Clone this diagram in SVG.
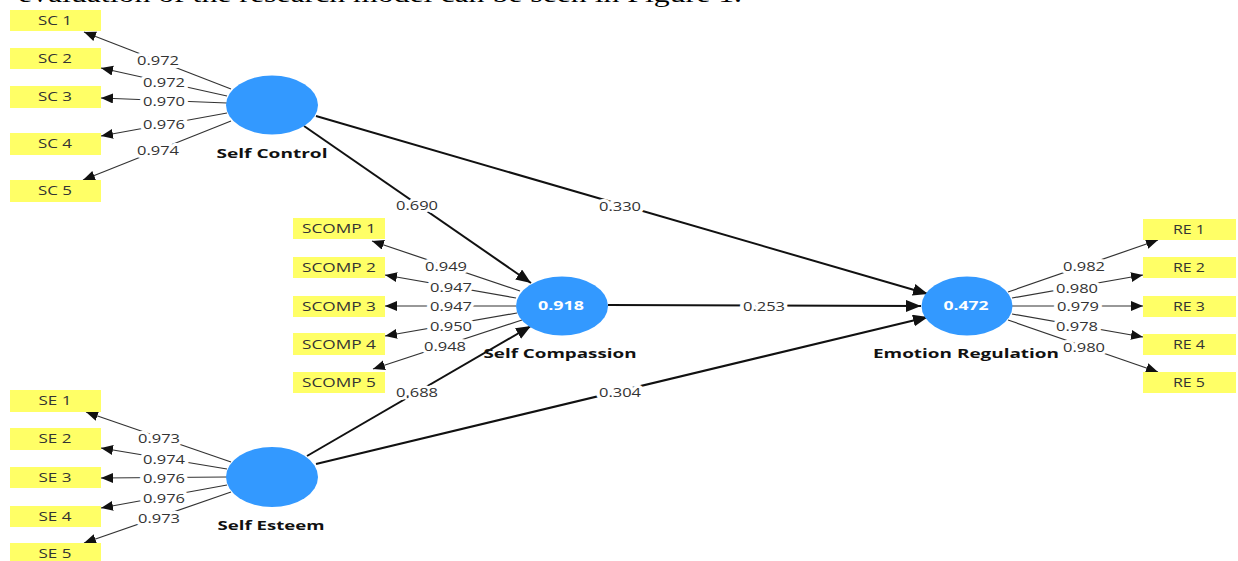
<svg xmlns="http://www.w3.org/2000/svg" width="1238" height="561" viewBox="0 0 1238 561">
<defs>
<style>
.box{fill:#ffff66;}
.lv{fill:#3399ff;}
.bl{font-family:"Open Sans","Noto Sans",sans-serif;font-size:13px;fill:#333;text-anchor:middle;}
.num{font-family:"Open Sans","Noto Sans",sans-serif;font-size:13px;fill:#333;text-anchor:middle;stroke:#fff;stroke-width:6px;paint-order:stroke;stroke-linejoin:round;}
.name{font-family:"Open Sans","Noto Sans",sans-serif;font-size:13px;font-weight:bold;fill:#111;text-anchor:middle;}
.r2{font-family:"Open Sans","Noto Sans",sans-serif;font-size:13px;font-weight:bold;fill:#fff;text-anchor:middle;}
.ld{stroke:#333;stroke-width:1.2;fill:none;marker-end:url(#ah);}
.st{stroke:#111;stroke-width:2;fill:none;marker-end:url(#ahb);}
</style>
<marker id="ah" markerUnits="userSpaceOnUse" markerWidth="13" markerHeight="11" refX="12" refY="5" orient="auto"><path d="M0,0 L12,5 L0,10 z" fill="#111"/></marker>
<marker id="ahb" markerUnits="userSpaceOnUse" markerWidth="16" markerHeight="13" refX="15" refY="6" orient="auto"><path d="M0,0 L15,6 L0,12 z" fill="#111"/></marker>
</defs>
<rect width="1238" height="561" fill="#fff"/>
<text x="18" y="2" font-family="Liberation Serif, serif" font-size="24" fill="#000" textLength="724" lengthAdjust="spacingAndGlyphs">evaluation of the research model can be seen in Figure 1.</text>

<g id="connectors">
<line class="ld" x1="231" y1="89" x2="84" y2="32"/>
<line class="ld" x1="227" y1="96" x2="101" y2="68"/>
<line class="ld" x1="227" y1="103" x2="101" y2="98"/>
<line class="ld" x1="227" y1="113" x2="101" y2="136"/>
<line class="ld" x1="231" y1="121" x2="83" y2="180"/>
<line class="ld" x1="231" y1="462" x2="86" y2="412"/>
<line class="ld" x1="227" y1="469" x2="101" y2="448"/>
<line class="ld" x1="227" y1="477" x2="101" y2="478"/>
<line class="ld" x1="227" y1="485" x2="101" y2="508"/>
<line class="ld" x1="231" y1="492" x2="84" y2="543"/>
<line class="ld" x1="520" y1="291" x2="372" y2="241"/>
<line class="ld" x1="516" y1="298" x2="385" y2="275"/>
<line class="ld" x1="516" y1="306" x2="385" y2="306"/>
<line class="ld" x1="517" y1="313" x2="385" y2="336"/>
<line class="ld" x1="522" y1="320" x2="373" y2="369"/>
<line class="ld" x1="1008" y1="292" x2="1158" y2="240"/>
<line class="ld" x1="1012" y1="298" x2="1143" y2="275"/>
<line class="ld" x1="1012" y1="306" x2="1143" y2="306"/>
<line class="ld" x1="1012" y1="314" x2="1143" y2="337"/>
<line class="ld" x1="1008" y1="320" x2="1158" y2="372"/>
<line class="st" x1="304" y1="126" x2="531" y2="283"/>
<line class="st" x1="316" y1="116" x2="928" y2="294"/>
<line class="st" x1="608" y1="305" x2="921" y2="306"/>
<line class="st" x1="307" y1="456" x2="531" y2="326"/>
<line class="st" x1="316" y1="464" x2="928" y2="317"/>
<text class="num" x="158" y="65" textLength="42" lengthAdjust="spacingAndGlyphs">0.972</text>
<text class="num" x="164" y="87" textLength="42" lengthAdjust="spacingAndGlyphs">0.972</text>
<text class="num" x="164" y="106" textLength="42" lengthAdjust="spacingAndGlyphs">0.970</text>
<text class="num" x="164" y="129" textLength="42" lengthAdjust="spacingAndGlyphs">0.976</text>
<text class="num" x="158" y="155" textLength="42" lengthAdjust="spacingAndGlyphs">0.974</text>
<text class="num" x="159" y="443" textLength="42" lengthAdjust="spacingAndGlyphs">0.973</text>
<text class="num" x="164" y="464" textLength="42" lengthAdjust="spacingAndGlyphs">0.974</text>
<text class="num" x="164" y="483" textLength="42" lengthAdjust="spacingAndGlyphs">0.976</text>
<text class="num" x="164" y="503" textLength="42" lengthAdjust="spacingAndGlyphs">0.976</text>
<text class="num" x="159" y="523" textLength="42" lengthAdjust="spacingAndGlyphs">0.973</text>
<text class="num" x="446" y="271" textLength="42" lengthAdjust="spacingAndGlyphs">0.949</text>
<text class="num" x="451" y="292" textLength="42" lengthAdjust="spacingAndGlyphs">0.947</text>
<text class="num" x="451" y="311" textLength="42" lengthAdjust="spacingAndGlyphs">0.947</text>
<text class="num" x="451" y="331" textLength="42" lengthAdjust="spacingAndGlyphs">0.950</text>
<text class="num" x="445" y="351" textLength="42" lengthAdjust="spacingAndGlyphs">0.948</text>
<text class="num" x="1084" y="271" textLength="42" lengthAdjust="spacingAndGlyphs">0.982</text>
<text class="num" x="1077" y="293" textLength="42" lengthAdjust="spacingAndGlyphs">0.980</text>
<text class="num" x="1078" y="311" textLength="42" lengthAdjust="spacingAndGlyphs">0.979</text>
<text class="num" x="1077" y="331" textLength="42" lengthAdjust="spacingAndGlyphs">0.978</text>
<text class="num" x="1084" y="352" textLength="42" lengthAdjust="spacingAndGlyphs">0.980</text>
<text class="num" x="417" y="210" textLength="42" lengthAdjust="spacingAndGlyphs">0.690</text>
<text class="num" x="620" y="211" textLength="42" lengthAdjust="spacingAndGlyphs">0.330</text>
<text class="num" x="764" y="311" textLength="42" lengthAdjust="spacingAndGlyphs">0.253</text>
<text class="num" x="417" y="397" textLength="42" lengthAdjust="spacingAndGlyphs">0.688</text>
<text class="num" x="620" y="397" textLength="42" lengthAdjust="spacingAndGlyphs">0.304</text>
</g>

<g id="sc1"><rect class="box" x="10" y="10" width="91" height="21"/><text class="bl" x="55" y="25" textLength="34" lengthAdjust="spacingAndGlyphs">SC 1</text></g>
<g id="sc2"><rect class="box" x="10" y="48" width="91" height="21"/><text class="bl" x="55" y="63" textLength="34" lengthAdjust="spacingAndGlyphs">SC 2</text></g>
<g id="sc3"><rect class="box" x="10" y="86" width="91" height="22"/><text class="bl" x="55" y="101" textLength="34" lengthAdjust="spacingAndGlyphs">SC 3</text></g>
<g id="sc4"><rect class="box" x="10" y="133" width="91" height="22"/><text class="bl" x="55" y="148" textLength="34" lengthAdjust="spacingAndGlyphs">SC 4</text></g>
<g id="sc5"><rect class="box" x="10" y="180" width="91" height="22"/><text class="bl" x="55" y="195" textLength="34" lengthAdjust="spacingAndGlyphs">SC 5</text></g>

<g id="se1"><rect class="box" x="10" y="390" width="91" height="22"/><text class="bl" x="55" y="405" textLength="33" lengthAdjust="spacingAndGlyphs">SE 1</text></g>
<g id="se2"><rect class="box" x="10" y="428" width="91" height="22"/><text class="bl" x="55" y="443" textLength="33" lengthAdjust="spacingAndGlyphs">SE 2</text></g>
<g id="se3"><rect class="box" x="10" y="467" width="91" height="21"/><text class="bl" x="55" y="482" textLength="33" lengthAdjust="spacingAndGlyphs">SE 3</text></g>
<g id="se4"><rect class="box" x="10" y="506" width="91" height="21"/><text class="bl" x="55" y="521" textLength="33" lengthAdjust="spacingAndGlyphs">SE 4</text></g>
<g id="se5"><rect class="box" x="10" y="543" width="91" height="22"/><text class="bl" x="55" y="558" textLength="33" lengthAdjust="spacingAndGlyphs">SE 5</text></g>

<g id="scomp1"><rect class="box" x="293" y="218" width="92" height="21"/><text class="bl" x="339" y="233" textLength="74" lengthAdjust="spacingAndGlyphs">SCOMP 1</text></g>
<g id="scomp2"><rect class="box" x="293" y="257" width="92" height="21"/><text class="bl" x="339" y="272" textLength="74" lengthAdjust="spacingAndGlyphs">SCOMP 2</text></g>
<g id="scomp3"><rect class="box" x="293" y="296" width="92" height="21"/><text class="bl" x="339" y="311" textLength="74" lengthAdjust="spacingAndGlyphs">SCOMP 3</text></g>
<g id="scomp4"><rect class="box" x="293" y="333" width="92" height="22"/><text class="bl" x="339" y="349" textLength="74" lengthAdjust="spacingAndGlyphs">SCOMP 4</text></g>
<g id="scomp5"><rect class="box" x="293" y="372" width="92" height="21"/><text class="bl" x="339" y="387" textLength="74" lengthAdjust="spacingAndGlyphs">SCOMP 5</text></g>

<g id="re1"><rect class="box" x="1143" y="219" width="93" height="21"/><text class="bl" x="1189" y="234" textLength="32" lengthAdjust="spacingAndGlyphs">RE 1</text></g>
<g id="re2"><rect class="box" x="1143" y="257" width="93" height="21"/><text class="bl" x="1189" y="272" textLength="32" lengthAdjust="spacingAndGlyphs">RE 2</text></g>
<g id="re3"><rect class="box" x="1143" y="296" width="93" height="21"/><text class="bl" x="1189" y="311" textLength="32" lengthAdjust="spacingAndGlyphs">RE 3</text></g>
<g id="re4"><rect class="box" x="1143" y="334" width="93" height="21"/><text class="bl" x="1189" y="349" textLength="32" lengthAdjust="spacingAndGlyphs">RE 4</text></g>
<g id="re5"><rect class="box" x="1143" y="372" width="93" height="21"/><text class="bl" x="1189" y="387" textLength="32" lengthAdjust="spacingAndGlyphs">RE 5</text></g>

<g id="self-control"><ellipse class="lv" cx="272" cy="105" rx="46" ry="29.5"/><text class="name" x="272" y="158" textLength="111" lengthAdjust="spacingAndGlyphs">Self Control</text></g>
<g id="self-esteem"><ellipse class="lv" cx="272" cy="477" rx="46" ry="30"/><text class="name" x="271" y="530" textLength="107" lengthAdjust="spacingAndGlyphs">Self Esteem</text></g>
<g id="self-compassion"><ellipse class="lv" cx="562" cy="306" rx="46" ry="29.5"/><text class="r2" x="561" y="310" textLength="46" lengthAdjust="spacingAndGlyphs">0.918</text><text class="name" x="560" y="358" textLength="153" lengthAdjust="spacingAndGlyphs">Self Compassion</text></g>
<g id="emotion-regulation"><ellipse class="lv" cx="967" cy="306" rx="45.5" ry="29.5"/><text class="r2" x="966" y="310" textLength="45" lengthAdjust="spacingAndGlyphs">0.472</text><text class="name" x="966" y="358" textLength="186" lengthAdjust="spacingAndGlyphs">Emotion Regulation</text></g>
</svg>
